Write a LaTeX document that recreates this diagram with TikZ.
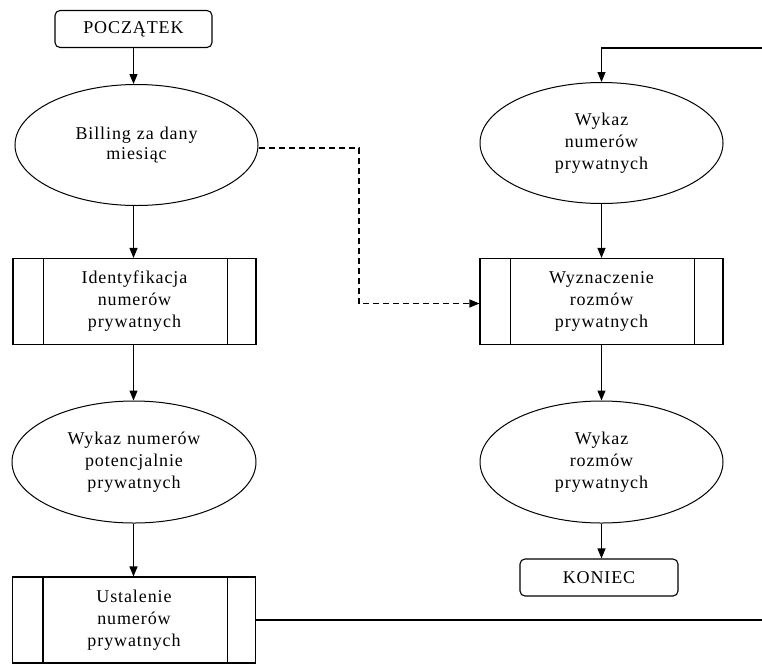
\documentclass[tikz,border=0pt]{standalone}
\usepackage{fontspec}
\setmainfont{Liberation Serif}
\newfontfamily\diagfont[LetterSpace=5]{Liberation Serif}
\usetikzlibrary{arrows.meta,shapes.geometric}
\tikzset{
  every node/.style={font=\diagfont\fontsize{18}{22}\selectfont, align=center, inner sep=0pt},
  termbox/.style={draw, rounded corners=5pt, line width=1.1pt, minimum width=157pt, minimum height=37pt},
  databox/.style={draw, ellipse, line width=1pt, minimum width=243pt, minimum height=121pt, text width=150pt},
  procbox/.style={draw, rectangle, line width=1.1pt, minimum width=243pt, minimum height=86pt, text width=170pt},
  flow/.style={line width=1.1pt, -{Triangle[length=10pt,width=8pt]}},
  dashflow/.style={flow, dash pattern=on 6pt off 4pt}
}
\begin{document}
\begin{tikzpicture}[x=1pt,y=-1pt]
\path[use as bounding box] (0,0) rectangle (762,664);
\clip (0,0) rectangle (762,664);
% left column
\node[termbox] (start) at (133.5,29) {POCZĄTEK};
\node[databox, font=\diagfont\fontsize{18}{20}\selectfont] (e1) at (136.5,145) {Billing za dany\\miesiąc};
\node[procbox] (b1) at (134.5,301.5) {Identyfikacja\\numerów\\prywatnych};
\node[databox, minimum width=244pt, minimum height=122pt] (e2) at (134,462) {Wykaz numerów\\potencjalnie\\prywatnych};
\node[procbox] (b2) at (134,620) {Ustalenie\\numerów\\prywatnych};
% right column
\node[databox] (e3) at (601.5,143) {Wykaz\\numerów\\prywatnych};
\node[procbox] (b3) at (601.5,301.5) {Wyznaczenie\\rozmów\\prywatnych};
\node[databox, minimum height=122pt] (e4) at (601.5,462) {Wykaz\\rozmów\\prywatnych};
\node[termbox, minimum width=158pt] (end) at (599,577.5) {KONIEC};
% inner side lines of process boxes
\foreach \b in {b1,b2,b3}{
  \draw[line width=1.1pt] ([xshift=31pt]\b.north west) -- ([xshift=31pt]\b.south west);
  \draw[line width=1.1pt] ([xshift=-29pt]\b.north east) -- ([xshift=-29pt]\b.south east);
}
% helper coordinates
\coordinate (dx) at (359,0);
\coordinate (rx) at (775,0);
\coordinate (topy) at (0,48);
% connectors
\draw[flow] (start.south) -- (start.south |- e1.north);
\draw[flow] (e1.south -| start.south) -- (start.south |- b1.north);
\draw[flow] (b1.south -| start.south) -- (start.south |- e2.north);
\draw[flow] (e2.south -| start.south) -- (start.south |- b2.north);
\draw[flow] (e3.south) -- (e3.south |- b3.north);
\draw[flow] (b3.south -| e3.south) -- (e3.south |- e4.north);
\draw[flow] (e4.south) -- (e4.south |- end.north);
\draw[dashflow] ([yshift=-3pt]e1.east) -- ([yshift=-3pt]e1.east -| dx) |- ([yshift=-2pt]b3.west);
\draw[flow] (b2.east) -- (b2.east -| rx) -- (rx |- topy) -- (topy -| e3.north) -- (e3.north);
\end{tikzpicture}
\end{document}
